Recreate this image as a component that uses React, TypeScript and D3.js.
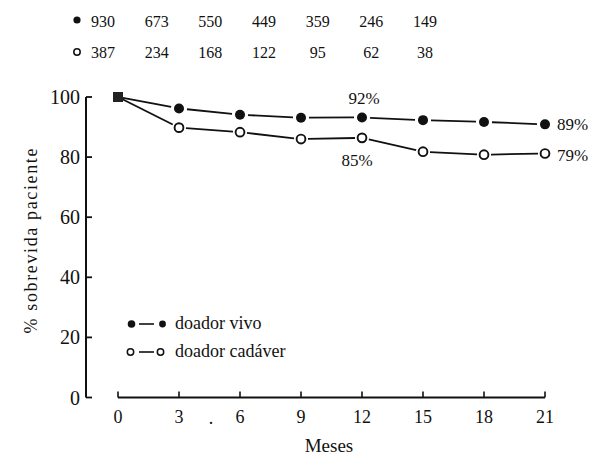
import React from "react";
import * as d3 from "d3";

const months = [0, 3, 6, 9, 12, 15, 18, 21];
const vivo = [100, 96.2, 94.1, 93.1, 93.2, 92.3, 91.7, 90.9];
const cadaver = [100, 89.8, 88.3, 86.0, 86.4, 81.8, 80.8, 81.2];
const atRiskVivo = ["930", "673", "550", "449", "359", "246", "149"];
const atRiskCadaver = ["387", "234", "168", "122", "95", "62", "38"];
const yTicks = [0, 20, 40, 60, 80, 100];
const xTicks = [0, 3, 6, 9, 12, 15, 18, 21];
const legendLabels = ["doador vivo", "doador cadáver"];
const annotations = [
  { month: 12, text: "92%", series: "vivo" },
  { month: 12, text: "85%", series: "cad" },
  { month: 21, text: "89%", series: "vivo" },
  { month: 21, text: "79%", series: "cad" },
];

const W = 595;
const H = 457;
const FONT = "'Liberation Serif', 'Times New Roman', serif";

function segments(values: number[], x: d3.ScaleLinear<number, number>, y: d3.ScaleLinear<number, number>, gap: number) {
  const segs: { x1: number; y1: number; x2: number; y2: number }[] = [];
  for (let i = 0; i < values.length - 1; i++) {
    const ax = x(months[i]);
    const ay = y(values[i]);
    const bx = x(months[i + 1]);
    const by = y(values[i + 1]);
    const len = Math.hypot(bx - ax, by - ay);
    const ux = (bx - ax) / len;
    const uy = (by - ay) / len;
    const g0 = i === 0 ? 5 : gap;
    segs.push({ x1: ax + ux * g0, y1: ay + uy * g0, x2: bx - ux * gap, y2: by - uy * gap });
  }
  return segs;
}

export default function App() {
  const x = d3.scaleLinear().domain([0, 21]).range([118, 545]);
  const y = d3.scaleLinear().domain([0, 100]).range([397.5, 97]);
  const tableX = d3.scaleLinear().domain([0, 6]).range([103, 425]);

  const axisX = 86;
  const color = "#111";
  const vivoSegs = segments(vivo, x, y, 8);
  const cadSegs = segments(cadaver, x, y, 7);

  return (
    <svg
      width={W}
      height={H}
      style={{ position: "absolute", left: 0, top: 0, background: "#fff" }}
      fontFamily={FONT}
    >
      <rect width={W} height={H} fill="#fff" />
      {/* at-risk table */}
      <circle cx={77} cy={20} r={3.6} fill={color} />
      <circle cx={77} cy={52} r={3.2} fill="#fff" stroke={color} strokeWidth={1.5} />
      {atRiskVivo.map((t, i) => (
        <text key={"v" + i} x={tableX(i)} y={27} fontSize={16} textAnchor="middle" fill={color}>
          {t}
        </text>
      ))}
      {atRiskCadaver.map((t, i) => (
        <text key={"c" + i} x={tableX(i)} y={58} fontSize={16} textAnchor="middle" fill={color}>
          {t}
        </text>
      ))}

      {/* y axis */}
      <line x1={axisX} x2={axisX} y1={y(100)} y2={y(0)} stroke={color} strokeWidth={2} />
      {yTicks.map((t) => (
        <g key={"yt" + t}>
          <line x1={axisX} x2={axisX + 6} y1={y(t)} y2={y(t)} stroke={color} strokeWidth={1.8} />
          <text x={80} y={y(t) + 7} fontSize={20} textAnchor="end" fill={color}>
            {t}
          </text>
        </g>
      ))}
      <text
        transform={`translate(37, 241) rotate(-90)`}
        fontSize={18}
        textAnchor="middle"
        fill={color}
        textLength={185}
        lengthAdjust="spacing"
      >
        % sobrevida paciente
      </text>

      {/* x axis */}
      <line x1={x(0)} x2={x(21)} y1={397.5} y2={397.5} stroke={color} strokeWidth={2} />
      {xTicks.map((t) => (
        <g key={"xt" + t}>
          <line x1={x(t)} x2={x(t)} y1={397.5} y2={391.5} stroke={color} strokeWidth={1.6} />
          <text x={x(t)} y={422.5} fontSize={18} textAnchor="middle" fill={color}>
            {t}
          </text>
        </g>
      ))}
      <text x={211} y={424} fontSize={18} textAnchor="middle" fill={color}>
        .
      </text>
      <text x={329} y={452} fontSize={19} textAnchor="middle" fill={color}>
        Meses
      </text>

      {/* lines */}
      {cadSegs.map((s, i) => (
        <line key={"cs" + i} {...s} stroke={color} strokeWidth={1.8} />
      ))}
      {vivoSegs.map((s, i) => (
        <line key={"vs" + i} {...s} stroke={color} strokeWidth={1.8} />
      ))}

      {/* markers */}
      {cadaver.map((v, i) =>
        i === 0 ? null : (
          <circle key={"cm" + i} cx={x(months[i])} cy={y(v)} r={4.4} fill="#fff" stroke={color} strokeWidth={1.9} />
        )
      )}
      {vivo.map((v, i) =>
        i === 0 ? null : <circle key={"vm" + i} cx={x(months[i])} cy={y(v)} r={5} fill={color} />
      )}
      <rect x={x(0) - 5} y={y(100) - 5} width={10} height={10} fill="#222" />

      {/* annotations */}
      {annotations.map((a, i) => {
        const isEnd = a.month === 21;
        const series = a.series === "vivo" ? vivo : cadaver;
        const idx = months.indexOf(a.month);
        const py = y(series[idx]);
        let tx = x(a.month);
        let ty = py;
        let anchor: "start" | "middle" = "middle";
        if (isEnd) {
          tx = x(a.month) + 12;
          anchor = "start";
          ty = a.series === "vivo" ? py + 6 : py + 8;
        } else if (a.series === "vivo") {
          tx = x(a.month) + 2;
          ty = py - 13;
        } else {
          tx = x(a.month) - 5;
          ty = py + 28;
        }
        return (
          <text key={"an" + i} x={tx} y={ty} fontSize={17} textAnchor={anchor} fill={color}>
            {a.text}
          </text>
        );
      })}

      {/* legend */}
      {legendLabels.map((l, i) => {
        const cy = 324 + i * 28;
        const filled = i === 0;
        return (
          <g key={"lg" + i}>
            <line x1={139} x2={154} y1={cy} y2={cy} stroke={color} strokeWidth={1.6} />
            {filled ? (
              <>
                <circle cx={131.5} cy={cy} r={3.8} fill={color} />
                <circle cx={162.5} cy={cy} r={3.4} fill={color} />
              </>
            ) : (
              <>
                <circle cx={130.5} cy={cy} r={3.2} fill="#fff" stroke={color} strokeWidth={1.5} />
                <circle cx={160.5} cy={cy} r={3.2} fill="#fff" stroke={color} strokeWidth={1.5} />
              </>
            )}
            <text x={175} y={cy + 5} fontSize={18} fill={color}>
              {l}
            </text>
          </g>
        );
      })}
    </svg>
  );
}
